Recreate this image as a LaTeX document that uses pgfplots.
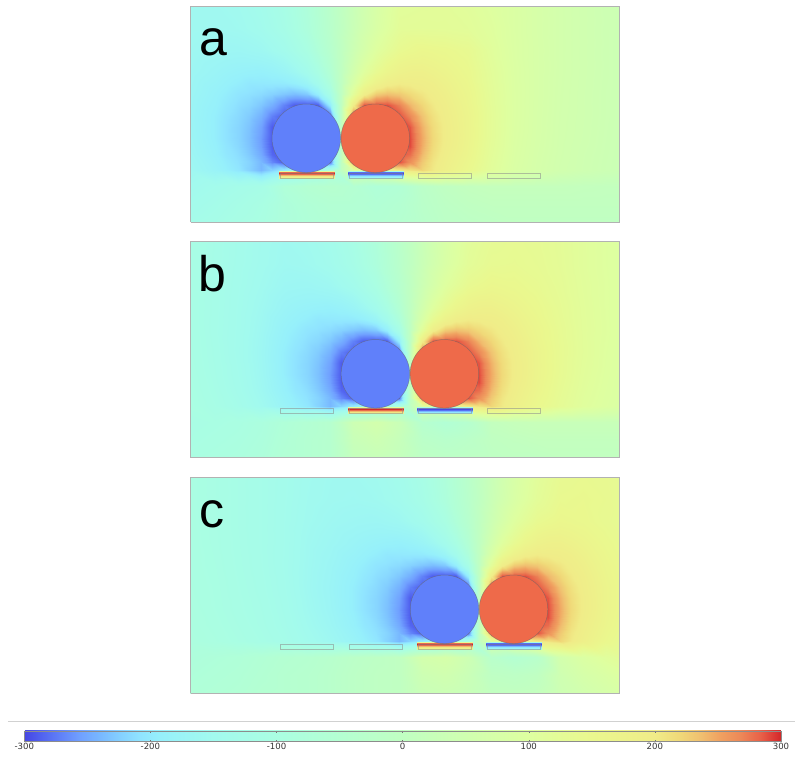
\documentclass[border=0pt]{standalone}
\usepackage{pgfplots}
\usepackage{pgfplotstable}
\pgfplotsset{compat=1.18}
\usepackage{fontspec}
\newfontfamily\labelfont{Liberation Sans}
\newfontfamily\tickfont{DejaVu Sans}
\definecolor{circblue}{RGB}{96,128,250}
\definecolor{circred}{RGB}{238,106,74}

% electrode surface profiles (relative x, y, potential)
\pgfplotstableread{
x y m
-1 50.6 120
54.3 50.6 120
-1 49.8 280
54.3 49.8 280
-1 48.8 300
54.3 48.8 300
-1 47.6 280
54.3 47.6 280
-1 46.6 240
54.3 46.6 240
-1 45.6 205
54.3 45.6 205
-1 44.6 175
54.3 44.6 175
-1 43.7 150
54.3 43.7 150
}\posstrip
\pgfplotstableread{
x y m
-1 50.6 -120
54.3 50.6 -120
-1 49.8 -280
54.3 49.8 -280
-1 48.8 -300
54.3 48.8 -300
-1 47.6 -280
54.3 47.6 -280
-1 46.6 -240
54.3 46.6 -240
-1 45.6 -205
54.3 45.6 -205
-1 44.6 -175
54.3 44.6 -175
-1 43.7 -150
54.3 43.7 -150
}\negstrip
\pgfplotstableread{
x y z
0 43.7 0
53.3 43.7 0
53.3 49 0
0 49 0
0 43.7 0
}\elecrect

% finer field around the pair of spheres (x relative to the contact point)
\pgfplotstableread[row sep=\\]{
x y m \\
-126.5 172 -166 \\ -115 172 -167 \\ -103.5 172 -168 \\ -92 172 -165 \\ -80.5 172 -162 \\ -69 172 -152 \\ -57.5 172 -142 \\ -46 172 -122 \\ -34.5 172 -102 \\ -23 172 -70 \\ -11.5 172 -38 \\ 0 172 0 \\ 11.5 172 38 \\ 23 172 70 \\ 34.5 172 102 \\ 46 172 122 \\ 57.5 172 142 \\ 69 172 149 \\ 80.5 172 156 \\ 92 172 153 \\ 103.5 172 151 \\ 115 172 146 \\ 126.5 172 141 \\
-126.5 161 -171 \\ -115 161 -174 \\ -103.5 161 -176 \\ -92 161 -176 \\ -80.5 161 -174 \\ -69 161 -170 \\ -57.5 161 -160 \\ -46 161 -143 \\ -34.5 161 -119 \\ -23 161 -86 \\ -11.5 161 -46 \\ 0 161 0 \\ 11.5 161 46 \\ 23 161 86 \\ 34.5 161 119 \\ 46 161 143 \\ 57.5 161 160 \\ 69 161 166 \\ 80.5 161 168 \\ 92 161 164 \\ 103.5 161 158 \\ 115 161 152 \\ 126.5 161 146 \\
-126.5 150 -176 \\ -115 150 -181 \\ -103.5 150 -185 \\ -92 150 -188 \\ -80.5 150 -190 \\ -69 150 -185 \\ -57.5 150 -176 \\ -46 150 -162 \\ -34.5 150 -140 \\ -23 150 -105 \\ -11.5 150 -57 \\ 0 150 0 \\ 11.5 150 57 \\ 23 150 105 \\ 34.5 150 140 \\ 46 150 162 \\ 57.5 150 176 \\ 69 150 181 \\ 80.5 150 182 \\ 92 150 175 \\ 103.5 150 167 \\ 115 150 158 \\ 126.5 150 150 \\
-126.5 139 -181 \\ -115 139 -188 \\ -103.5 139 -195 \\ -92 139 -202 \\ -80.5 139 -201 \\ -69 139 -200 \\ -57.5 139 -199 \\ -46 139 -192 \\ -34.5 139 -174 \\ -23 139 -138 \\ -11.5 139 -78 \\ 0 139 0 \\ 11.5 139 78 \\ 23 139 138 \\ 34.5 139 174 \\ 46 139 192 \\ 57.5 139 199 \\ 69 139 196 \\ 80.5 139 193 \\ 92 139 188 \\ 103.5 139 176 \\ 115 139 165 \\ 126.5 139 155 \\
-126.5 128 -187 \\ -115 128 -196 \\ -103.5 128 -206 \\ -92 128 -210 \\ -80.5 128 -215 \\ -69 128 -222 \\ -57.5 128 -230 \\ -46 128 -236 \\ -34.5 128 -228 \\ -23 128 -193 \\ -11.5 128 -116 \\ 0 128 0 \\ 11.5 128 116 \\ 23 128 193 \\ 34.5 128 228 \\ 46 128 236 \\ 57.5 128 230 \\ 69 128 218 \\ 80.5 128 206 \\ 92 128 195 \\ 103.5 128 185 \\ 115 128 171 \\ 126.5 128 159 \\
-126.5 117 -190 \\ -115 117 -202 \\ -103.5 117 -212 \\ -92 117 -218 \\ -80.5 117 -230 \\ -69 117 -246 \\ -57.5 117 -271 \\ -46 117 -290 \\ -34.5 117 -290 \\ -23 117 -290 \\ -11.5 117 -195 \\ 0 117 0 \\ 11.5 117 195 \\ 23 117 290 \\ 34.5 117 290 \\ 46 117 290 \\ 57.5 117 271 \\ 69 117 241 \\ 80.5 117 221 \\ 92 117 203 \\ 103.5 117 191 \\ 115 117 177 \\ 126.5 117 162 \\
-126.5 106 -194 \\ -115 106 -207 \\ -103.5 106 -216 \\ -92 106 -227 \\ -80.5 106 -244 \\ -69 106 -272 \\ -57.5 106 -290 \\ -46 106 -290 \\ -34.5 106 -290 \\ -23 106 -290 \\ -11.5 106 -290 \\ 0 106 0 \\ 11.5 106 290 \\ 23 106 290 \\ 34.5 106 290 \\ 46 106 290 \\ 57.5 106 290 \\ 69 106 267 \\ 80.5 106 234 \\ 92 106 211 \\ 103.5 106 194 \\ 115 106 181 \\ 126.5 106 165 \\
-126.5 95 -194 \\ -115 95 -209 \\ -103.5 95 -219 \\ -92 95 -232 \\ -80.5 95 -254 \\ -69 95 -290 \\ -57.5 95 -290 \\ -46 95 -290 \\ -34.5 95 -290 \\ -23 95 -290 \\ -11.5 95 -290 \\ 0 95 0 \\ 11.5 95 290 \\ 23 95 290 \\ 34.5 95 290 \\ 46 95 290 \\ 57.5 95 290 \\ 69 95 287 \\ 80.5 95 244 \\ 92 95 216 \\ 103.5 95 197 \\ 115 95 183 \\ 126.5 95 165 \\
-126.5 84 -194 \\ -115 84 -209 \\ -103.5 84 -219 \\ -92 84 -234 \\ -80.5 84 -258 \\ -69 84 -290 \\ -57.5 84 -290 \\ -46 84 -290 \\ -34.5 84 -290 \\ -23 84 -290 \\ -11.5 84 -290 \\ 0 84 0 \\ 11.5 84 290 \\ 23 84 290 \\ 34.5 84 290 \\ 46 84 290 \\ 57.5 84 290 \\ 69 84 290 \\ 80.5 84 248 \\ 92 84 218 \\ 103.5 84 197 \\ 115 84 183 \\ 126.5 84 165 \\
-126.5 76 -191 \\ -115 76 -206 \\ -103.5 76 -217 \\ -92 76 -232 \\ -80.5 76 -256 \\ -69 76 -290 \\ -57.5 76 -290 \\ -46 76 -290 \\ -34.5 76 -290 \\ -23 76 -290 \\ -11.5 76 -290 \\ 0 76 0 \\ 11.5 76 290 \\ 23 76 290 \\ 34.5 76 290 \\ 46 76 290 \\ 57.5 76 290 \\ 69 76 290 \\ 80.5 76 246 \\ 92 76 216 \\ 103.5 76 195 \\ 115 76 181 \\ 126.5 76 163 \\
-126.5 68 -189 \\ -115 68 -203 \\ -103.5 68 -213 \\ -92 68 -228 \\ -80.5 68 -250 \\ -69 68 -285 \\ -57.5 68 -290 \\ -46 68 -290 \\ -34.5 68 -290 \\ -23 68 -290 \\ -11.5 68 -290 \\ 0 68 0 \\ 11.5 68 290 \\ 23 68 290 \\ 34.5 68 290 \\ 46 68 290 \\ 57.5 68 290 \\ 69 68 279 \\ 80.5 68 240 \\ 92 68 212 \\ 103.5 68 192 \\ 115 68 177 \\ 126.5 68 161 \\
-126.5 60 -184 \\ -115 60 -197 \\ -103.5 60 -209 \\ -92 60 -221 \\ -80.5 60 -240 \\ -69 60 -268 \\ -57.5 60 -290 \\ -46 60 -290 \\ -34.5 60 -290 \\ -23 60 -290 \\ -11.5 60 -290 \\ 0 60 0 \\ 11.5 60 290 \\ 23 60 290 \\ 34.5 60 290 \\ 46 60 290 \\ 57.5 60 290 \\ 69 60 262 \\ 80.5 60 230 \\ 92 60 206 \\ 103.5 60 188 \\ 115 60 173 \\ 126.5 60 157 \\
-126.5 52 -179 \\ -115 52 -192 \\ -103.5 52 -204 \\ -92 52 -222 \\ -80.5 52 -240 \\ -69 52 -220 \\ -57.5 52 -200 \\ -46 52 -175 \\ -34.5 52 -150 \\ -23 52 -125 \\ -11.5 52 -100 \\ 0 52 0 \\ 11.5 52 100 \\ 23 52 125 \\ 34.5 52 150 \\ 46 52 175 \\ 57.5 52 200 \\ 69 52 210 \\ 80.5 52 221 \\ 92 52 202 \\ 103.5 52 184 \\ 115 52 168 \\ 126.5 52 152 \\
}\nearfield

\tikzset{plabel/.style={anchor=base west, inner sep=0pt, font=\labelfont\fontsize{50.2}{60}\selectfont}}
\pgfplotsset{
  colormap={rbl}{rgb255(0pt)=(70,70,226) rgb255(12pt)=(80,96,238) rgb255(28pt)=(96,128,248)
    rgb255(44pt)=(112,160,255) rgb255(60pt)=(120,184,255) rgb255(76pt)=(132,208,255)
    rgb255(92pt)=(144,228,255) rgb255(108pt)=(150,240,251)
    rgb255(150pt)=(162,250,238) rgb255(200pt)=(170,254,226) rgb255(250pt)=(180,255,210)
    rgb255(300pt)=(192,255,194) rgb255(350pt)=(208,255,176) rgb255(400pt)=(222,255,160)
    rgb255(450pt)=(234,248,142) rgb255(500pt)=(240,236,136) rgb255(520pt)=(240,216,120)
    rgb255(536pt)=(240,192,112) rgb255(552pt)=(240,160,96) rgb255(568pt)=(236,136,88)
    rgb255(584pt)=(232,96,72) rgb255(597pt)=(216,48,48) rgb255(600pt)=(208,40,40)},
  panel/.style={width=429bp, height=216bp, scale only axis, xmin=0, xmax=429, ymin=0, ymax=216,
    view={0}{90}, hide axis, clip=false, colormap name=rbl,
    point meta min=-300, point meta max=300, anchor=north west},
  field/.style={surf, shader=interp, mesh/cols=20},
  near/.style={surf, shader=interp, mesh/cols=23},
  strip/.style={surf, shader=interp, mesh/cols=2},
  elec/.style={draw=black!45, draw opacity=0.55, line width=0.8bp, no marks},
  disc/.style={only marks, mark=*, mark size=34.4pt,
    mark options={fill=#1, draw=black!60, draw opacity=0.6, line width=0.5bp}},
  frame/.style={draw=black!30, line width=0.9bp, no marks, line join=miter},
}

\begin{document}
\begin{tikzpicture}
\useasboundingbox (0,0) rectangle (795bp,-765bp);

% ---------------- panel a ----------------
\begin{axis}[panel, at={(190.5bp,-6bp)}]
\addplot3[field] coordinates {
(0,216,-156) (24,216,-157) (47,216,-152) (70,216,-139) (93,216,-115) (116,216,-77) (139,216,-27) (162,216,27) (185,216,77) (208,216,115) (231,216,118) (254,216,119) (277,216,113) (300,216,101) (323,216,88) (346,216,73) (369,216,60) (392,216,50) (415,216,41) (429,216,38)
(0,194,-157) (24,194,-159) (47,194,-156) (70,194,-145) (93,194,-121) (116,194,-82) (139,194,-30) (162,194,30) (185,194,82) (208,194,121) (231,194,123) (254,194,122) (277,194,118) (300,194,106) (323,194,88) (346,194,73) (369,194,60) (392,194,50) (415,194,41) (429,194,38)
(0,172,-161) (24,172,-166) (47,172,-168) (70,172,-162) (93,172,-142) (116,172,-102) (139,172,-38) (162,172,38) (185,172,102) (208,172,142) (231,172,156) (254,172,151) (277,172,141) (300,172,112) (323,172,89) (346,172,74) (369,172,60) (392,172,50) (415,172,41) (429,172,37)
(0,150,-166) (24,150,-176) (47,150,-185) (70,150,-190) (93,150,-183) (116,150,-147) (139,150,-59) (162,150,59) (185,150,147) (208,150,183) (231,150,182) (254,150,167) (277,150,150) (300,150,118) (323,150,91) (346,150,74) (369,150,60) (392,150,50) (415,150,41) (429,150,37)
(0,128,-171) (24,128,-187) (47,128,-206) (70,128,-228) (93,128,-250) (116,128,-242) (139,128,-120) (162,128,120) (185,128,242) (208,128,250) (231,128,219) (254,128,185) (277,128,159) (300,128,122) (323,128,92) (346,128,74) (369,128,59) (392,128,49) (415,128,40) (429,128,37)
(0,106,-174) (24,106,-194) (47,106,-222) (70,106,-265) (93,106,-285) (116,106,-285) (139,106,-285) (162,106,285) (185,106,285) (208,106,285) (231,106,254) (254,106,200) (277,106,165) (300,106,125) (323,106,92) (346,106,73) (369,106,58) (392,106,49) (415,106,40) (429,106,36)
(0,84,-172) (24,84,-194) (47,84,-227) (70,84,-279) (93,84,-285) (116,84,-285) (139,84,-285) (162,84,285) (185,84,285) (208,84,285) (231,84,268) (254,84,204) (277,84,165) (300,84,124) (323,84,90) (346,84,72) (369,84,57) (392,84,48) (415,84,39) (429,84,35)
(0,68,-168) (24,68,-189) (47,68,-219) (70,68,-267) (93,68,-285) (116,68,-285) (139,68,-285) (162,68,285) (185,68,285) (208,68,285) (231,68,256) (254,68,197) (277,68,161) (300,68,120) (323,68,88) (346,68,70) (369,68,56) (392,68,46) (415,68,38) (429,68,34)
(0,52,-161) (24,52,-179) (47,52,-204) (70,52,-240) (93,52,-200) (116,52,-150) (139,52,-100) (162,52,100) (185,52,150) (208,52,200) (231,52,221) (254,52,184) (277,52,152) (300,52,115) (323,52,85) (346,52,68) (369,52,54) (392,52,45) (415,52,37) (429,52,33)
(0,36,-150) (24,36,-140) (47,36,-130) (70,36,-120) (93,36,-70) (116,36,-50) (139,36,-40) (162,36,-50) (185,36,-70) (208,36,-60) (231,36,-20) (254,36,0) (277,36,10) (300,36,15) (323,36,15) (346,36,15) (369,36,15) (392,36,12) (415,36,10) (429,36,10)
(0,18,-140) (24,18,-130) (47,18,-118) (70,18,-105) (93,18,-80) (116,18,-65) (139,18,-55) (162,18,-55) (185,18,-60) (208,18,-50) (231,18,-25) (254,18,-10) (277,18,0) (300,18,5) (323,18,5) (346,18,5) (369,18,5) (392,18,5) (415,18,5) (429,18,5)
(0,0,-130) (24,0,-122) (47,0,-110) (70,0,-100) (93,0,-80) (116,0,-70) (139,0,-60) (162,0,-55) (185,0,-55) (208,0,-45) (231,0,-30) (254,0,-15) (277,0,-10) (300,0,-5) (323,0,0) (346,0,0) (369,0,0) (392,0,0) (415,0,0) (429,0,0)
};
\addplot3[near] table[x expr=\thisrow{x}+150.5, y=y, z=m] {\nearfield};
\addplot3[strip] table[x expr=\thisrow{x}+89.5, y=y, z=m] {\posstrip};
\addplot3[strip] table[x expr=\thisrow{x}+158.6, y=y, z=m] {\negstrip};
\addplot3[elec] table[x expr=\thisrow{x}+89.5, y=y, z=z] {\elecrect};
\addplot3[elec] table[x expr=\thisrow{x}+158.6, y=y, z=z] {\elecrect};
\addplot3[elec] table[x expr=\thisrow{x}+227.7, y=y, z=z] {\elecrect};
\addplot3[elec] table[x expr=\thisrow{x}+296.8, y=y, z=z] {\elecrect};
\addplot3[disc=circblue] coordinates {(115.8,83.7,0)};
\addplot3[disc=circred] coordinates {(184.8,83.7,0)};
\addplot3[frame] coordinates {(0,0,0) (429,0,0) (429,216,0) (0,216,0) (0,0,0)};
\node[plabel] at (axis cs:8.5,166,0) {a};
\end{axis}

% ---------------- panel b ----------------
\begin{axis}[panel, at={(190.5bp,-241.5bp)}]
\addplot3[field] coordinates {
(0,216,-111) (24,216,-123) (47,216,-136) (70,216,-148) (93,216,-157) (116,216,-152) (139,216,-139) (162,216,-115) (185,216,-77) (208,216,-27) (231,216,27) (254,216,77) (277,216,115) (300,216,132) (323,216,137) (346,216,133) (369,216,125) (392,216,112) (415,216,102) (429,216,96)
(0,194,-111) (24,194,-124) (47,194,-137) (70,194,-149) (93,194,-159) (116,194,-156) (139,194,-145) (162,194,-121) (185,194,-82) (208,194,-30) (231,194,30) (254,194,82) (277,194,121) (300,194,138) (323,194,140) (346,194,135) (369,194,126) (392,194,112) (415,194,102) (429,194,96)
(0,172,-111) (24,172,-125) (47,172,-139) (70,172,-153) (93,172,-166) (116,172,-168) (139,172,-162) (162,172,-142) (185,172,-102) (208,172,-38) (231,172,38) (254,172,102) (277,172,142) (300,172,156) (323,172,151) (346,172,141) (369,172,129) (392,172,114) (415,172,103) (429,172,97)
(0,150,-111) (24,150,-125) (47,150,-141) (70,150,-158) (93,150,-176) (116,150,-185) (139,150,-190) (162,150,-183) (185,150,-147) (208,150,-59) (231,150,59) (254,150,147) (277,150,183) (300,150,182) (323,150,167) (346,150,150) (369,150,133) (392,150,116) (415,150,103) (429,150,97)
(0,128,-110) (24,128,-126) (47,128,-142) (70,128,-162) (93,128,-187) (116,128,-206) (139,128,-228) (162,128,-250) (185,128,-242) (208,128,-120) (231,128,120) (254,128,242) (277,128,250) (300,128,219) (323,128,185) (346,128,159) (369,128,137) (392,128,117) (415,128,104) (429,128,96)
(0,106,-109) (24,106,-124) (47,106,-143) (70,106,-165) (93,106,-194) (116,106,-222) (139,106,-265) (162,106,-285) (185,106,-285) (208,106,-285) (231,106,285) (254,106,285) (277,106,285) (300,106,254) (323,106,200) (346,106,165) (369,106,139) (392,106,118) (415,106,102) (429,106,95)
(0,84,-106) (24,84,-122) (47,84,-140) (70,84,-163) (93,84,-194) (116,84,-227) (139,84,-279) (162,84,-285) (185,84,-285) (208,84,-285) (231,84,285) (254,84,285) (277,84,285) (300,84,268) (323,84,204) (346,84,165) (369,84,138) (392,84,115) (415,84,100) (429,84,93)
(0,68,-104) (24,68,-119) (47,68,-137) (70,68,-160) (93,68,-189) (116,68,-219) (139,68,-267) (162,68,-285) (185,68,-285) (208,68,-285) (231,68,285) (254,68,285) (277,68,285) (300,68,256) (323,68,197) (346,68,161) (369,68,134) (392,68,112) (415,68,98) (429,68,90)
(0,52,-101) (24,52,-115) (47,52,-131) (70,52,-153) (93,52,-179) (116,52,-204) (139,52,-240) (162,52,-200) (185,52,-150) (208,52,-100) (231,52,100) (254,52,150) (277,52,200) (300,52,221) (323,52,184) (346,52,152) (369,52,129) (392,52,108) (415,52,95) (429,52,88)
(0,36,-110) (24,36,-105) (47,36,-100) (70,36,-90) (93,36,-70) (116,36,-55) (139,36,-40) (162,36,40) (185,36,60) (208,36,30) (231,36,-40) (254,36,-60) (277,36,-40) (300,36,10) (323,36,20) (346,36,25) (369,36,25) (392,36,25) (415,36,25) (429,36,25)
(0,18,-105) (24,18,-100) (47,18,-95) (70,18,-85) (93,18,-65) (116,18,-50) (139,18,-40) (162,18,25) (185,18,40) (208,18,20) (231,18,-20) (254,18,-30) (277,18,-20) (300,18,0) (323,18,5) (346,18,10) (369,18,10) (392,18,10) (415,18,10) (429,18,10)
(0,0,-100) (24,0,-95) (47,0,-90) (70,0,-80) (93,0,-60) (116,0,-50) (139,0,-40) (162,0,15) (185,0,25) (208,0,15) (231,0,-10) (254,0,-15) (277,0,-10) (300,0,-5) (323,0,0) (346,0,0) (369,0,5) (392,0,5) (415,0,5) (429,0,5)
};
\addplot3[near] table[x expr=\thisrow{x}+219.5, y=y, z=m] {\nearfield};
\addplot3[strip] table[x expr=\thisrow{x}+158.6, y=y, z=m] {\posstrip};
\addplot3[strip] table[x expr=\thisrow{x}+227.7, y=y, z=m] {\negstrip};
\addplot3[elec] table[x expr=\thisrow{x}+89.5, y=y, z=z] {\elecrect};
\addplot3[elec] table[x expr=\thisrow{x}+158.6, y=y, z=z] {\elecrect};
\addplot3[elec] table[x expr=\thisrow{x}+227.7, y=y, z=z] {\elecrect};
\addplot3[elec] table[x expr=\thisrow{x}+296.8, y=y, z=z] {\elecrect};
\addplot3[disc=circblue] coordinates {(184.9,83.7,0)};
\addplot3[disc=circred] coordinates {(253.9,83.7,0)};
\addplot3[frame] coordinates {(0,0,0) (429,0,0) (429,216,0) (0,216,0) (0,0,0)};
\node[plabel] at (axis cs:7.5,166,0) {b};
\end{axis}

% ---------------- panel c ----------------
\begin{axis}[panel, at={(190.5bp,-477bp)},
  colorbar horizontal,
  colorbar style={
    at={(parent axis.south west)}, anchor=north west,
    xshift=-166.2bp, yshift=-29.3bp,
    width=756.7bp, height=10.7bp, scale only axis,
    xmin=-300, xmax=300,
    xtick={-300,-200,-100,0,100,200,300},
    xticklabels={-300,-200,-100,0,100,200,300},
    xticklabel style={font=\tickfont\fontsize{8.6}{9}\selectfont, text=black!80, inner sep=1bp},
    tick align=inside, xtick pos=both, xticklabel pos=lower,
    major tick length=2bp,
    every tick/.style={draw=black!55, line width=0.5bp},
    axis line style={draw=black!45, line width=0.6bp},
  }]
\addplot3[field] coordinates {
(0,216,-101) (24,216,-109) (47,216,-119) (70,216,-128) (93,216,-138) (116,216,-151) (139,216,-156) (162,216,-157) (185,216,-152) (208,216,-139) (231,216,-115) (254,216,-77) (277,216,-27) (300,216,27) (323,216,77) (346,216,115) (369,216,139) (392,216,144) (415,216,141) (429,216,133)
(0,194,-101) (24,194,-109) (47,194,-119) (70,194,-128) (93,194,-139) (116,194,-152) (139,194,-157) (162,194,-159) (185,194,-156) (208,194,-145) (231,194,-121) (254,194,-82) (277,194,-30) (300,194,30) (323,194,82) (346,194,121) (369,194,145) (392,194,148) (415,194,143) (429,194,134)
(0,172,-100) (24,172,-109) (47,172,-119) (70,172,-128) (93,172,-140) (116,172,-154) (139,172,-161) (162,172,-166) (185,172,-168) (208,172,-162) (231,172,-142) (254,172,-102) (277,172,-38) (300,172,38) (323,172,102) (346,172,142) (369,172,156) (392,172,151) (415,172,141) (429,172,136)
(0,150,-99) (24,150,-108) (47,150,-118) (70,150,-128) (93,150,-140) (116,150,-157) (139,150,-166) (162,150,-176) (185,150,-185) (208,150,-190) (231,150,-183) (254,150,-147) (277,150,-59) (300,150,59) (323,150,147) (346,150,183) (369,150,182) (392,150,167) (415,150,150) (429,150,142)
(0,128,-99) (24,128,-106) (47,128,-117) (70,128,-127) (93,128,-141) (116,128,-158) (139,128,-171) (162,128,-187) (185,128,-206) (208,128,-228) (231,128,-250) (254,128,-242) (277,128,-120) (300,128,120) (323,128,242) (346,128,250) (369,128,219) (392,128,185) (415,128,159) (429,128,148)
(0,106,-97) (24,106,-104) (47,106,-115) (70,106,-125) (93,106,-139) (116,106,-159) (139,106,-174) (162,106,-194) (185,106,-222) (208,106,-265) (231,106,-285) (254,106,-285) (277,106,-285) (300,106,285) (323,106,285) (346,106,285) (369,106,254) (392,106,200) (415,106,165) (429,106,152)
(0,84,-94) (24,84,-103) (47,84,-113) (70,84,-122) (93,84,-136) (116,84,-156) (139,84,-172) (162,84,-194) (185,84,-227) (208,84,-279) (231,84,-285) (254,84,-285) (277,84,-285) (300,84,285) (323,84,285) (346,84,285) (369,84,268) (392,84,204) (415,84,165) (429,84,152)
(0,68,-93) (24,68,-100) (47,68,-110) (70,68,-120) (93,68,-133) (116,68,-152) (139,68,-168) (162,68,-189) (185,68,-219) (208,68,-267) (231,68,-285) (254,68,-285) (277,68,-285) (300,68,285) (323,68,285) (346,68,285) (369,68,256) (392,68,197) (415,68,161) (429,68,148)
(0,52,-90) (24,52,-97) (47,52,-106) (70,52,-116) (93,52,-128) (116,52,-146) (139,52,-161) (162,52,-179) (185,52,-204) (208,52,-240) (231,52,-200) (254,52,-150) (277,52,-100) (300,52,100) (323,52,150) (346,52,200) (369,52,221) (392,52,184) (415,52,152) (429,52,138)
(0,36,-80) (24,36,-75) (47,36,-70) (70,36,-60) (93,36,-50) (116,36,-45) (139,36,-35) (162,36,-20) (185,36,-10) (208,36,0) (231,36,60) (254,36,70) (277,36,40) (300,36,-30) (323,36,-50) (346,36,-30) (369,36,60) (392,36,90) (415,36,110) (429,36,120)
(0,18,-75) (24,18,-70) (47,18,-65) (70,18,-55) (93,18,-45) (116,18,-40) (139,18,-30) (162,18,-15) (185,18,-5) (208,18,0) (231,18,40) (254,18,50) (277,18,30) (300,18,-5) (323,18,-10) (346,18,0) (369,18,45) (392,18,70) (415,18,85) (429,18,95)
(0,0,-70) (24,0,-65) (47,0,-60) (70,0,-50) (93,0,-45) (116,0,-40) (139,0,-30) (162,0,-15) (185,0,-5) (208,0,0) (231,0,30) (254,0,35) (277,0,25) (300,0,5) (323,0,5) (346,0,10) (369,0,40) (392,0,55) (415,0,70) (429,0,80)
};
\addplot3[near] table[x expr=\thisrow{x}+288.5, y=y, z=m] {\nearfield};
\addplot3[strip] table[x expr=\thisrow{x}+227.7, y=y, z=m] {\posstrip};
\addplot3[strip] table[x expr=\thisrow{x}+296.8, y=y, z=m] {\negstrip};
\addplot3[elec] table[x expr=\thisrow{x}+89.5, y=y, z=z] {\elecrect};
\addplot3[elec] table[x expr=\thisrow{x}+158.6, y=y, z=z] {\elecrect};
\addplot3[elec] table[x expr=\thisrow{x}+227.7, y=y, z=z] {\elecrect};
\addplot3[elec] table[x expr=\thisrow{x}+296.8, y=y, z=z] {\elecrect};
\addplot3[disc=circblue] coordinates {(254.0,83.7,0)};
\addplot3[disc=circred] coordinates {(323.0,83.7,0)};
\addplot3[frame] coordinates {(0,0,0) (429,0,0) (429,216,0) (0,216,0) (0,0,0)};
\addplot3[draw=black!18, line width=1bp, no marks] coordinates {(-182.5,-28.3,0) (604.5,-28.3,0)};
\node[plabel] at (axis cs:8.5,166,0) {c};
\end{axis}
\end{tikzpicture}
\end{document}
